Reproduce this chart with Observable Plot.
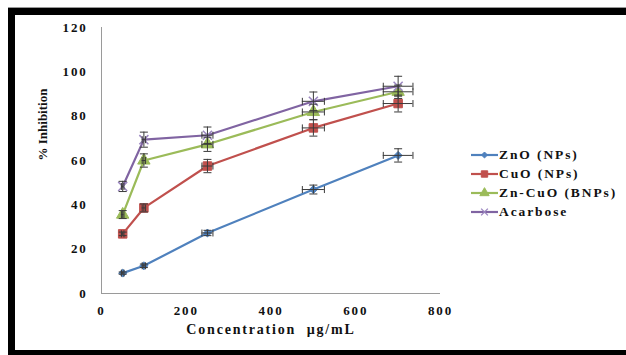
<!DOCTYPE html>
<html>
<head>
<meta charset="utf-8">
<script src="https://cdn.jsdelivr.net/npm/d3@7"></script>
<script src="https://cdn.jsdelivr.net/npm/@observablehq/plot@0.6"></script>
<style>
  html, body { margin: 0; padding: 0; background: #fff; }
  #wrap { position: relative; width: 626px; height: 355px; overflow: hidden; background: #fff; font-family: "Liberation Serif", "Times New Roman", serif; }
  #chart { position: absolute; left: 0; top: 0; }
  #frame { position: absolute; left: 8px; top: 8px; width: 611px; height: 335px; border-top: 7px solid #000; border-left: 7px solid #000; border-bottom: 5px solid #000; z-index: 2; }
  #topline { position: absolute; left: 8px; top: 7px; width: 618px; height: 1px; background: #999; z-index: 2; }
  #legend { position: absolute; left: 471px; top: 146px; z-index: 3; font-weight: bold; font-size: 13.5px; letter-spacing: 1.9px; color: #111; }
  #legend .row { display: flex; align-items: center; height: 18.8px; }
  #legend svg { margin-right: 1px; }
</style>
</head>
<body>
<div id="wrap">
  <div id="topline"></div>
  <div id="frame"></div>
  <div id="chart"></div>
  <div id="legend"></div>
</div>
<script>
// ---- data ----
const concentrations = [50, 100, 250, 500, 700];
const seriesNames = ["ZnO (NPs)", "CuO (NPs)", "Zn-CuO (BNPs)", "Acarbose"];
const znO      = [9.2, 12.5, 27.3, 46.9, 62.3];
const cuO      = [26.9, 38.6, 57.5, 74.7, 85.7];
const znCuO    = [35.6, 60.0, 67.3, 81.9, 91.0];
const acarbose = [48.3, 69.4, 71.4, 86.7, 93.5];
const errZnO      = [0.5, 0.8, 1.2, 2.0, 3.0];
const errCuO      = [0.8, 1.8, 3.0, 3.7, 3.8];
const errZnCuO    = [1.8, 3.0, 3.2, 3.5, 3.0];
const errAcarbose = [2.3, 3.4, 3.7, 4.2, 4.5];
const errConc     = [3, 4, 13, 26, 35];
const yTicks = [0, 20, 40, 60, 80, 100, 120];
const xTicks = [0, 200, 400, 600, 800];
const xTitle = "Concentration  µg/mL";
const yTitle = "% Inhibition";

const colors = ["#4f81bd", "#c0504d", "#9bbb59", "#8064a2"];
const symbols = ["diamond2", "square", "triangle", "times"];
const radii = [3.6, 4.8, 4.6, 4.2];

const values = [znO, cuO, znCuO, acarbose];
const errs = [errZnO, errCuO, errZnCuO, errAcarbose];
const rows = [];
seriesNames.forEach((s, i) => {
  concentrations.forEach((c, j) => {
    rows.push({series: s, idx: i, x: c, y: values[i][j], yerr: errs[i][j], xerr: errConc[j]});
  });
});

const hcap = {draw(ctx) { ctx.moveTo(-4, 0); ctx.lineTo(4, 0); }};
const vcap = {draw(ctx) { ctx.moveTo(0, -3.5); ctx.lineTo(0, 3.5); }};
const errColor = "#3a3a3a";

const marks = [
  Plot.ruleX([0], {stroke: "#9a9a9a", strokeWidth: 1}),
  Plot.ruleY([0], {stroke: "#9a9a9a", strokeWidth: 1}),
  Plot.axisY({ticks: yTicks, tickSize: 0, tickPadding: 14, label: null, fontSize: 13, fontWeight: "bold", fill: "#111"}),
  Plot.axisX({ticks: xTicks, tickSize: 0, tickPadding: 12, label: null, fontSize: 13, fontWeight: "bold", fill: "#111"}),
  Plot.text([xTitle], {frameAnchor: "bottom", dy: 40, fontSize: 14, fontWeight: "bold", fill: "#111"}),
  Plot.text([yTitle], {frameAnchor: "left", dx: -59, rotate: -90, fontSize: 13, fontWeight: "bold", fill: "#111"})
];
seriesNames.forEach((s, i) => {
  const data = rows.filter(d => d.idx === i);
  marks.push(Plot.line(data, {x: "x", y: "y", stroke: colors[i], strokeWidth: 2.2}));
});
seriesNames.forEach((s, i) => {
  const data = rows.filter(d => d.idx === i);
  const isStroke = symbols[i] === "times";
  marks.push(Plot.dot(data, {
    x: "x", y: "y", symbol: () => symbols[i], r: radii[i],
    fill: isStroke ? "none" : colors[i],
    stroke: isStroke ? "#9b86c0" : colors[i],
    strokeWidth: isStroke ? 1.5 : 1
  }));
});
// error bars
marks.push(
  Plot.ruleX(rows, {x: "x", y1: d => d.y - d.yerr, y2: d => d.y + d.yerr, stroke: errColor, strokeWidth: 1}),
  Plot.dot(rows, {x: "x", y: d => d.y + d.yerr, symbol: hcap, stroke: errColor, strokeWidth: 1, r: 3}),
  Plot.dot(rows, {x: "x", y: d => d.y - d.yerr, symbol: hcap, stroke: errColor, strokeWidth: 1, r: 3}),
  Plot.ruleY(rows, {y: "y", x1: d => d.x - d.xerr, x2: d => d.x + d.xerr, stroke: errColor, strokeWidth: 1}),
  Plot.dot(rows, {x: d => d.x + d.xerr, y: "y", symbol: vcap, stroke: errColor, strokeWidth: 1, r: 3}),
  Plot.dot(rows, {x: d => d.x - d.xerr, y: "y", symbol: vcap, stroke: errColor, strokeWidth: 1, r: 3})
);

const chart = Plot.plot({
  width: 626,
  height: 355,
  marginLeft: 101,
  marginRight: 186,
  marginTop: 27,
  marginBottom: 62,
  style: {background: "transparent", fontFamily: "'Liberation Serif', 'Times New Roman', serif"},
  x: {domain: [0, 800]},
  y: {domain: [0, 120]},
  marks
});
document.getElementById("chart").appendChild(chart);

// wide, stretched look of the original's text
d3.select(chart).selectAll("text").each(function() {
  const t = this.textContent;
  if (t === xTitle) this.style.letterSpacing = "1.8px";
  else if (t !== yTitle) this.style.letterSpacing = "1.8px";
  this.style.whiteSpace = "pre";
});

// legend
const legend = document.getElementById("legend");
seriesNames.forEach((s, i) => {
  const row = document.createElement("div");
  row.className = "row";
  const sw = d3.create("svg").attr("width", 27).attr("height", 12);
  sw.append("line").attr("x1", 0).attr("x2", 27).attr("y1", 6).attr("y2", 6)
    .attr("stroke", colors[i]).attr("stroke-width", 2.2);
  const symMap = {diamond2: d3.symbolDiamond2, square: d3.symbolSquare, triangle: d3.symbolTriangle, times: d3.symbolTimes};
  const isStroke = symbols[i] === "times";
  sw.append("path")
    .attr("d", d3.symbol(symMap[symbols[i]], Math.PI * (radii[i] * 0.75) ** 2)())
    .attr("transform", "translate(13.5,6)")
    .attr("fill", isStroke ? "none" : colors[i])
    .attr("stroke", isStroke ? "#9b86c0" : colors[i])
    .attr("stroke-width", isStroke ? 1.3 : 1);
  row.appendChild(sw.node());
  const t = document.createElement("span");
  t.textContent = s;
  row.appendChild(t);
  legend.appendChild(row);
});
</script>
</body>
</html>
